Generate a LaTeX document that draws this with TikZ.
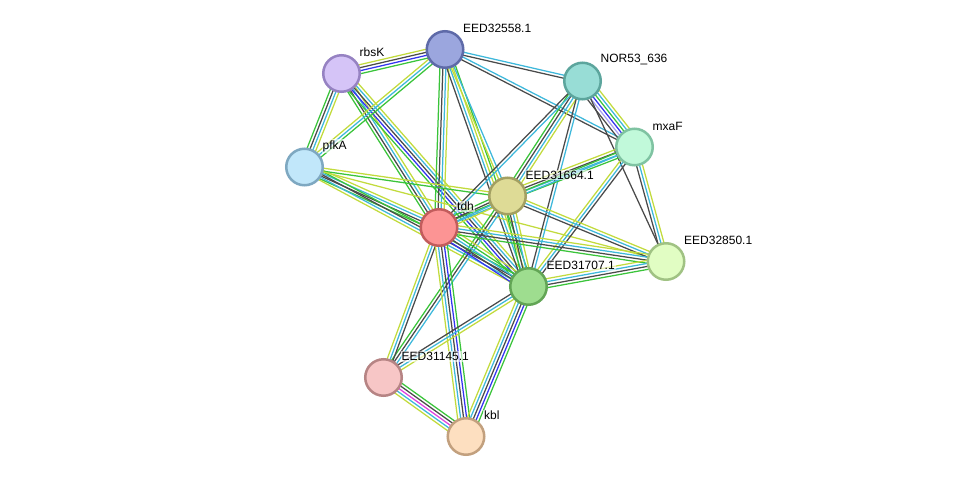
\documentclass[tikz,border=0pt]{standalone}
\usepackage{fontspec}
\setmainfont{Liberation Sans}
\usetikzlibrary{calc,backgrounds}
\definecolor{textmine}{HTML}{C2DB3C}
\definecolor{database}{HTML}{3DB8DB}
\definecolor{coexpr}{HTML}{4A4A4A}
\definecolor{neighbor}{HTML}{3AC43A}
\definecolor{cooccur}{HTML}{3333F0}
\definecolor{experim}{HTML}{E040E0}
\definecolor{homolog}{HTML}{A8A0F0}
\newcommand{\edgeset}[3]{%
  \foreach \col [count=\cnt] in {#3}{\xdef\nstr{\cnt}}
  \foreach \col [count=\idx] in {#3}{%
    \pgfmathsetmacro{\shft}{(\idx-(\nstr+1)/2)*3}
    \draw[strand,\col] ($(#1.center)!\shft pt!90:(#2.center)$) -- ($(#2.center)!\shft pt!-90:(#1.center)$);
  }}

\begin{document}
\begin{tikzpicture}[x=1pt,y=-1pt,
    prot/.style={circle,minimum size=36.5pt,inner sep=0pt,line width=2.5pt},
    lab/.style={anchor=west,inner sep=1pt,fill=white,fill opacity=0.6,text opacity=1,font=\fontsize{12}{12}\selectfont},
    strand/.style={line width=1.25pt}]
    \useasboundingbox (0,0) rectangle (975,482);
    \node[prot,fill={rgb,255:red,155;green,166;blue,222},draw={rgb,255:red,94;green,106;blue,168}] (e558) at (445,49.5) {};
    \node[prot,fill={rgb,255:red,213;green,196;blue,247},draw={rgb,255:red,150;green,130;blue,194}] (rbsk) at (341.5,73.5) {};
    \node[prot,fill={rgb,255:red,152;green,221;blue,214},draw={rgb,255:red,92;green,165;blue,157}] (nor) at (582.5,81) {};
    \node[prot,fill={rgb,255:red,193;green,249;blue,218},draw={rgb,255:red,127;green,195;blue,162}] (mxaf) at (634.5,147) {};
    \node[prot,fill={rgb,255:red,193;green,231;blue,250},draw={rgb,255:red,126;green,168;blue,193}] (pfka) at (304.5,167) {};
    \node[prot,fill={rgb,255:red,222;green,219;blue,150},draw={rgb,255:red,163;green,160;blue,98}] (e664) at (507.5,196) {};
    \node[prot,fill={rgb,255:red,252;green,148;blue,148},draw={rgb,255:red,194;green,92;blue,92}] (tdh) at (439,227.5) {};
    \node[prot,fill={rgb,255:red,225;green,253;blue,195},draw={rgb,255:red,160;green,194;blue,131}] (e850) at (666,261.5) {};
    \node[prot,fill={rgb,255:red,158;green,221;blue,143},draw={rgb,255:red,98;green,165;blue,85}] (e707) at (528.5,286.5) {};
    \node[prot,fill={rgb,255:red,247;green,198;blue,198},draw={rgb,255:red,182;green,132;blue,132}] (e145) at (383.5,377.5) {};
    \node[prot,fill={rgb,255:red,253;green,223;blue,192},draw={rgb,255:red,194;green,160;blue,126}] (kbl) at (466,436.5) {};
    \node[lab] (e558-t) at ([shift={(17,-21)}]e558.center) {EED32558.1};
    \node[lab] (rbsk-t) at ([shift={(17,-21)}]rbsk.center) {rbsK};
    \node[lab] (nor-t) at ([shift={(17,-21)}]nor.center) {NOR53\_636};
    \node[lab] (mxaf-t) at ([shift={(17,-21)}]mxaf.center) {mxaF};
    \node[lab] (pfka-t) at ([shift={(17,-21)}]pfka.center) {pfkA};
    \node[lab] (e664-t) at ([shift={(17,-21)}]e664.center) {EED31664.1};
    \node[lab] (tdh-t) at ([shift={(17,-21)}]tdh.center) {tdh};
    \node[lab] (e850-t) at ([shift={(17,-21)}]e850.center) {EED32850.1};
    \node[lab] (e707-t) at ([shift={(17,-21)}]e707.center) {EED31707.1};
    \node[lab] (e145-t) at ([shift={(17,-21)}]e145.center) {EED31145.1};
    \node[lab] (kbl-t) at ([shift={(17,-21)}]kbl.center) {kbl};
    \begin{scope}[on background layer]
    \fill[white] (0,0) rectangle (975,482);
    \edgeset{rbsk}{e558}{neighbor,cooccur,coexpr,textmine}
    \edgeset{rbsk}{pfka}{neighbor,coexpr,database,textmine}
    \edgeset{rbsk}{tdh}{neighbor,coexpr,database,textmine}
    \edgeset{rbsk}{e707}{neighbor,cooccur,coexpr,database,textmine}
    \edgeset{e558}{pfka}{textmine,database,neighbor}
    \edgeset{e558}{tdh}{neighbor,coexpr,database,textmine}
    \edgeset{e558}{e707}{coexpr,database,textmine,neighbor}
    \edgeset{e558}{e664}{textmine,database}
    \edgeset{e558}{nor}{coexpr,database}
    \edgeset{e558}{mxaf}{coexpr,database}
    \edgeset{pfka}{tdh}{neighbor,coexpr,database,textmine}
    \edgeset{pfka}{e664}{neighbor,textmine}
    \edgeset{pfka}{e707}{textmine,database,coexpr,neighbor}
    \edgeset{pfka}{e850}{textmine}
    \edgeset{nor}{mxaf}{coexpr,homolog,cooccur,neighbor,database,textmine}
    \edgeset{nor}{e664}{neighbor,coexpr,database,textmine}
    \edgeset{nor}{tdh}{coexpr,database}
    \edgeset{nor}{e707}{coexpr,database}
    \edgeset{nor}{e850}{coexpr}
    \edgeset{mxaf}{e664}{textmine,coexpr,database,neighbor}
    \edgeset{mxaf}{tdh}{neighbor,database}
    \edgeset{mxaf}{e707}{textmine,database,coexpr}
    \edgeset{mxaf}{e850}{coexpr,database,textmine}
    \edgeset{e664}{tdh}{neighbor,coexpr,database,textmine}
    \edgeset{e664}{e707}{neighbor,coexpr,database,textmine}
    \edgeset{e664}{e850}{coexpr,database,textmine}
    \edgeset{e664}{e145}{neighbor,coexpr,database}
    \edgeset{tdh}{e707}{cooccur,coexpr,database,neighbor,textmine}
    \edgeset{tdh}{e850}{neighbor,coexpr,database,textmine}
    \edgeset{tdh}{e145}{textmine,database,coexpr}
    \edgeset{tdh}{kbl}{textmine,database,coexpr,cooccur,neighbor}
    \edgeset{e707}{e850}{neighbor,coexpr,database,textmine}
    \edgeset{e707}{e145}{coexpr,database,textmine}
    \edgeset{e707}{kbl}{textmine,database,coexpr,cooccur,neighbor}
    \edgeset{e145}{kbl}{textmine,database,experim,coexpr,neighbor}
    \end{scope}
  \end{tikzpicture}
\end{document}
